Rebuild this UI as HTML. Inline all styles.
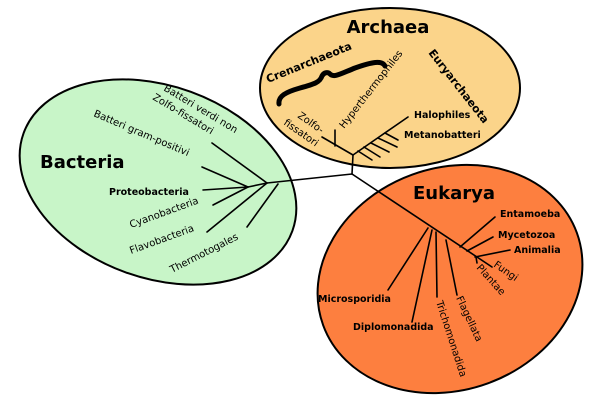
<!DOCTYPE html>
<html><head><meta charset="utf-8"><style>
html,body{margin:0;padding:0;background:#fff;width:600px;height:400px;overflow:hidden;}
svg{display:block;}
text{font-family:"DejaVu Sans","Liberation Sans",sans-serif;fill:#000;}
.b{font-weight:bold;}
</style></head><body>
<svg width="600" height="400" viewBox="0 0 600 400" xmlns="http://www.w3.org/2000/svg">
<ellipse cx="390" cy="88" rx="130" ry="80" fill="#fbd48a" stroke="#000" stroke-width="2"/>
<ellipse cx="158" cy="182" rx="143" ry="96" transform="rotate(20 158 182)" fill="#c8f5c8" stroke="#000" stroke-width="2"/>
<ellipse cx="450" cy="279" rx="135" ry="111" transform="rotate(-20 450 279)" fill="#fd7f3f" stroke="#000" stroke-width="2"/>
<g stroke="#000" stroke-width="1.6" fill="none" stroke-linecap="round">
<line x1="353" y1="155" x2="352" y2="174"/>
<line x1="352" y1="174" x2="267" y2="183"/>
<line x1="352" y1="174" x2="492" y2="267"/>
<line x1="353" y1="155" x2="322" y2="137"/>
<line x1="335" y1="130" x2="335" y2="146"/>
<line x1="353" y1="155" x2="408" y2="117"/>
<line x1="385" y1="133" x2="398" y2="140"/>
<line x1="378" y1="138" x2="397" y2="147"/>
<line x1="371" y1="143" x2="389" y2="152"/>
<line x1="364" y1="147" x2="380" y2="157"/>
<line x1="358" y1="151" x2="372" y2="160"/>
<path d="M279 104 C278 96 286 92 300 88 C315 84 320 82 322 76 C324 72 328 72 330 74 C334 78 340 74 355 68 C372 62 382 60 385 66" stroke-width="5"/>
<line x1="267" y1="183" x2="212" y2="143"/>
<line x1="267" y1="183" x2="248" y2="187"/>
<line x1="248" y1="187" x2="202" y2="167"/>
<line x1="248" y1="187" x2="203" y2="190"/>
<line x1="248" y1="187" x2="213" y2="205"/>
<line x1="267" y1="183" x2="207" y2="232"/>
<line x1="278" y1="184" x2="247" y2="227"/>
<line x1="460" y1="247" x2="495" y2="217"/>
<line x1="467" y1="251" x2="493" y2="237"/>
<line x1="475" y1="257" x2="510" y2="250"/>
<line x1="476" y1="257" x2="477" y2="263"/>
<line x1="428" y1="228" x2="388" y2="290"/>
<line x1="432" y1="230" x2="412" y2="322"/>
<line x1="436" y1="232" x2="437" y2="297"/>
<line x1="446" y1="240" x2="457" y2="295"/>
</g>
<text x="388" y="33" class="b" font-size="18" text-anchor="middle">Archaea</text>
<text x="40" y="168" class="b" font-size="18">Bacteria</text>
<text x="413" y="199" class="b" font-size="18">Eukarya</text>
<text class="b" font-size="11" transform="translate(268 83) rotate(-22)">Crenarchaeota</text>
<text class="b" font-size="11" transform="translate(428 53) rotate(52)">Euryarchaeota</text>
<text font-size="10" transform="translate(344 129) rotate(-52)">Hyperthermophiles</text>
<text font-size="10" transform="translate(297 117) rotate(35)">Zolfo-</text>
<text font-size="10" transform="translate(283 124) rotate(35)">fissatori</text>
<text class="b" font-size="9.5" x="414" y="118">Halophiles</text>
<text class="b" font-size="9.5" x="404" y="138">Metanobatteri</text>
<text font-size="10" transform="translate(163 90) rotate(31)">Batteri verdi non</text>
<text font-size="10" transform="translate(152 99) rotate(31)">Zolfo-fissatori</text>
<text font-size="10" transform="translate(93 116) rotate(23)">Batteri gram-positivi</text>
<text class="b" font-size="9.5" x="109" y="195">Proteobacteria</text>
<text font-size="10" transform="translate(131 228) rotate(-20)">Cyanobacteria</text>
<text font-size="10" transform="translate(131 254) rotate(-20)">Flavobacteria</text>
<text font-size="10" transform="translate(172 273) rotate(-27)">Thermotogales</text>
<text class="b" font-size="9.5" x="500" y="217">Entamoeba</text>
<text class="b" font-size="9.5" x="498" y="238">Mycetozoa</text>
<text class="b" font-size="9.5" x="514" y="253">Animalia</text>
<text font-size="10" transform="translate(493 266) rotate(35)">Fungi</text>
<text font-size="10" transform="translate(476 268) rotate(48)">Plantae</text>
<text class="b" font-size="9.5" x="318" y="302">Microsporidia</text>
<text class="b" font-size="9.5" x="353" y="330">Diplomonadida</text>
<text font-size="10" transform="translate(436 302) rotate(72)">Trichomonadida</text>
<text font-size="10" transform="translate(456 298) rotate(65)">Flagellata</text>
</svg>
</body></html>
